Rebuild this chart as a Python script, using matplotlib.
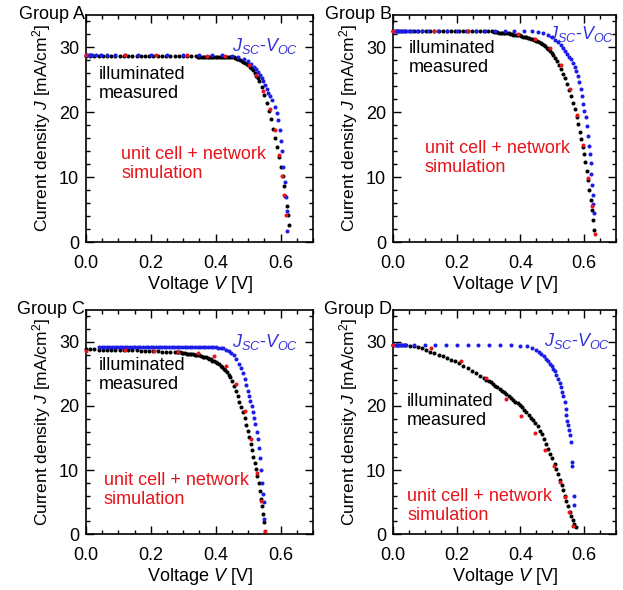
import matplotlib
matplotlib.use("Agg")
import matplotlib.pyplot as plt
from matplotlib.ticker import MultipleLocator

plt.rcParams['font.family'] = ['Liberation Sans', 'DejaVu Sans']
plt.rcParams['mathtext.fontset'] = 'custom'
plt.rcParams['mathtext.rm'] = 'Liberation Sans'
plt.rcParams['mathtext.it'] = 'Liberation Sans:italic'

BLACK = '#000000'
BLUE = '#1c1ce8'
RED = '#e8141a'
BLUE_TXT = '#3434dc'

# ---------------- Group A ----------------
v_meas_a = [0.000, 0.013, 0.026, 0.039, 0.052, 0.065, 0.078, 0.091, 0.104, 0.117, 0.130, 0.143, 0.156,
            0.169, 0.182, 0.195, 0.208, 0.221, 0.234, 0.247, 0.260, 0.273, 0.286, 0.299, 0.312, 0.325, 0.338,
            0.345, 0.350, 0.355, 0.360, 0.365, 0.370, 0.375, 0.380, 0.385, 0.390, 0.395, 0.400, 0.405,
            0.410, 0.415, 0.420, 0.425, 0.430, 0.435, 0.440, 0.445, 0.450, 0.455, 0.460, 0.465, 0.470,
            0.475, 0.480, 0.485, 0.490, 0.495, 0.500, 0.505, 0.510, 0.515, 0.520, 0.525, 0.530, 0.535,
            0.542, 0.550, 0.557, 0.564, 0.571, 0.578, 0.584, 0.590, 0.596, 0.601, 0.606, 0.611, 0.615,
            0.619, 0.623, 0.627]
j_meas_a = [28.6, 28.6, 28.6, 28.6, 28.6, 28.6, 28.6, 28.6, 28.6, 28.6, 28.6, 28.6, 28.6,
            28.6, 28.6, 28.6, 28.6, 28.6, 28.6, 28.6, 28.6, 28.6, 28.6, 28.6, 28.6, 28.6, 28.6,
            28.5, 28.5, 28.5, 28.5, 28.5, 28.5, 28.5, 28.5, 28.5, 28.5, 28.5, 28.5, 28.5,
            28.5, 28.5, 28.5, 28.5, 28.5, 28.5, 28.5, 28.5, 28.4, 28.4, 28.3, 28.2, 28.1,
            28.0, 27.9, 27.7, 27.6, 27.4, 27.2, 27.0, 26.7, 26.4, 26.0, 25.6, 25.2, 24.7,
            23.8, 22.6, 21.4, 20.2, 18.9, 17.4, 16.0, 14.6, 13.1, 11.6, 10.1, 8.6, 7.1,
            5.6, 4.1, 2.6]
v_jv_a = [0.000, 0.004, 0.008, 0.012, 0.016, 0.020, 0.030, 0.045, 0.065, 0.090, 0.120, 0.160, 0.200,
          0.250, 0.300, 0.350, 0.390, 0.420, 0.450, 0.470, 0.487, 0.500, 0.510, 0.518, 0.525, 0.531,
          0.537, 0.542, 0.547, 0.552, 0.557, 0.562, 0.568, 0.575, 0.582, 0.588, 0.593, 0.597, 0.601,
          0.604, 0.609, 0.613, 0.617, 0.620, 0.621]
j_jv_a = [28.8, 28.8, 28.8, 28.8, 28.8, 28.8, 28.8, 28.8, 28.8, 28.8, 28.8, 28.8, 28.8,
          28.8, 28.8, 28.8, 28.7, 28.7, 28.6, 28.4, 28.2, 27.8, 27.4, 27.0, 26.6, 26.2,
          25.7, 25.2, 24.7, 24.2, 23.6, 23.0, 22.4, 21.8, 20.8, 19.8, 18.8, 17.3, 15.6,
          14.0, 11.5, 9.3, 7.0, 4.8, 1.7]
v_sim_a = [0.000, 0.120, 0.215, 0.310, 0.372, 0.428, 0.503, 0.523, 0.545, 0.568, 0.582, 0.594, 0.604, 0.610, 0.616]
j_sim_a = [28.7, 28.7, 28.7, 28.7, 28.6, 28.6, 27.3, 25.7, 23.3, 20.5, 17.3, 13.4, 10.1, 7.2, 4.2]

# ---------------- Group B ----------------
v_meas_b = [0.000, 0.013, 0.026, 0.039, 0.052, 0.065, 0.078, 0.091, 0.104, 0.117, 0.130, 0.143, 0.156,
            0.169, 0.182, 0.195, 0.208, 0.221, 0.234, 0.247, 0.260, 0.273, 0.286, 0.299, 0.312,
            0.318, 0.323, 0.328, 0.333, 0.338, 0.343, 0.348, 0.353, 0.358, 0.363, 0.368, 0.373, 0.378,
            0.383, 0.388, 0.393, 0.398, 0.403, 0.408, 0.413, 0.418, 0.423, 0.428, 0.433, 0.438, 0.443,
            0.448, 0.453, 0.458, 0.463, 0.468, 0.473, 0.478, 0.483, 0.488, 0.493, 0.498, 0.503, 0.508,
            0.514, 0.520, 0.526, 0.533, 0.540, 0.546, 0.552, 0.558, 0.564, 0.570, 0.576, 0.581, 0.586,
            0.591, 0.596, 0.600, 0.604, 0.608, 0.612, 0.616, 0.620, 0.624, 0.628, 0.632]
j_meas_b = [32.4, 32.4, 32.4, 32.4, 32.4, 32.4, 32.4, 32.4, 32.4, 32.4, 32.4, 32.4, 32.4,
            32.4, 32.4, 32.4, 32.4, 32.4, 32.4, 32.4, 32.4, 32.4, 32.4, 32.4, 32.4,
            32.3, 32.3, 32.3, 32.2, 32.2, 32.2, 32.2, 32.1, 32.1, 32.1, 32.0, 32.0, 31.9,
            31.9, 31.9, 31.8, 31.8, 31.7, 31.6, 31.6, 31.5, 31.4, 31.4, 31.3, 31.2, 31.1,
            31.0, 30.9, 30.8, 30.6, 30.5, 30.3, 30.1, 29.9, 29.7, 29.4, 29.1, 28.7, 28.3,
            27.8, 27.2, 26.6, 25.9, 25.2, 24.3, 23.4, 22.4, 21.4, 20.4, 19.3, 18.2, 17.0,
            15.8, 14.6, 13.5, 12.3, 10.9, 9.5, 8.0, 6.5, 5.0, 3.4, 1.8]
v_jv_b = [0.000, 0.004, 0.008, 0.012, 0.016, 0.020, 0.025, 0.030, 0.035, 0.040, 0.050, 0.060, 0.075,
          0.090, 0.110, 0.140, 0.170, 0.200, 0.230, 0.260, 0.290, 0.320, 0.350, 0.380, 0.410, 0.435,
          0.455, 0.472, 0.488, 0.500, 0.510, 0.519, 0.527, 0.534, 0.540, 0.546, 0.552, 0.558, 0.564,
          0.570, 0.575, 0.580, 0.585, 0.589, 0.593, 0.597, 0.601, 0.605, 0.608, 0.611, 0.614, 0.617,
          0.620, 0.623, 0.625, 0.627, 0.629, 0.631]
j_jv_b = [32.5, 32.5, 32.5, 32.5, 32.5, 32.5, 32.5, 32.5, 32.5, 32.5, 32.5, 32.5, 32.5,
          32.5, 32.5, 32.5, 32.5, 32.5, 32.5, 32.5, 32.5, 32.5, 32.5, 32.5, 32.5, 32.5,
          32.3, 32.1, 31.8, 31.5, 31.1, 30.7, 30.3, 29.9, 29.4, 28.9, 28.5, 28.1, 27.5,
          26.9, 26.3, 25.6, 24.6, 23.6, 22.5, 21.3, 20.2, 19.2, 17.8, 16.3, 14.8, 13.5,
          12.2, 10.5, 8.8, 7.2, 5.8, 4.4]
v_sim_b = [0.000, 0.130, 0.235, 0.393, 0.446, 0.493, 0.527, 0.556, 0.579, 0.597, 0.613, 0.624, 0.634]
j_sim_b = [32.5, 32.5, 32.5, 32.0, 31.3, 29.8, 27.3, 23.6, 19.5, 14.9, 9.9, 5.5, 1.3]

# ---------------- Group C ----------------
v_meas_c = [0.000, 0.013, 0.026, 0.039, 0.052, 0.065, 0.078, 0.091, 0.104, 0.117, 0.130, 0.143, 0.156,
            0.169, 0.182, 0.195, 0.208, 0.221, 0.234, 0.247, 0.260, 0.273,
            0.280, 0.285, 0.290, 0.295, 0.300, 0.305, 0.310, 0.315, 0.320, 0.325, 0.330, 0.335, 0.340,
            0.345, 0.350, 0.355, 0.360, 0.365, 0.370, 0.375, 0.380, 0.385, 0.390, 0.395, 0.400, 0.405,
            0.410, 0.415, 0.420, 0.425, 0.430, 0.435, 0.440, 0.445,
            0.451, 0.457, 0.463, 0.468, 0.473, 0.478, 0.484, 0.489, 0.494, 0.499, 0.504, 0.508, 0.512,
            0.516, 0.520, 0.524, 0.528, 0.532, 0.536, 0.540, 0.543, 0.546, 0.549]
j_meas_c = [28.9, 28.9, 28.9, 28.8, 28.8, 28.8, 28.8, 28.8, 28.7, 28.7, 28.7, 28.7, 28.7,
            28.6, 28.6, 28.6, 28.6, 28.6, 28.5, 28.5, 28.5, 28.5,
            28.4, 28.4, 28.4, 28.3, 28.3, 28.3, 28.2, 28.2, 28.2, 28.1, 28.1, 28.0, 28.0,
            27.9, 27.9, 27.8, 27.7, 27.6, 27.6, 27.5, 27.4, 27.3, 27.1, 27.0, 26.8, 26.7,
            26.5, 26.3, 26.1, 25.8, 25.6, 25.3, 24.9, 24.5,
            23.9, 23.1, 22.3, 21.5, 20.7, 19.9, 19.0, 18.1, 17.1, 16.1, 15.1, 14.1, 13.1,
            12.1, 11.1, 10.1, 9.0, 7.9, 6.7, 5.5, 4.3, 3.1, 1.9]
v_jv_c = [0.040, 0.048, 0.056, 0.064, 0.072, 0.080, 0.088, 0.096, 0.104, 0.112, 0.120, 0.128, 0.136,
          0.144, 0.152, 0.160, 0.168, 0.176, 0.184, 0.192, 0.200, 0.208, 0.216, 0.224, 0.232, 0.240,
          0.248, 0.256, 0.264, 0.272, 0.280, 0.288, 0.296, 0.304, 0.312, 0.320, 0.328, 0.336, 0.344,
          0.352, 0.360, 0.368, 0.376, 0.384, 0.392, 0.400,
          0.408, 0.416, 0.424, 0.432, 0.440, 0.448, 0.456, 0.464, 0.471, 0.477, 0.483, 0.489, 0.494,
          0.499, 0.503, 0.507, 0.511, 0.515, 0.519, 0.522, 0.526, 0.530, 0.533, 0.537, 0.540, 0.543,
          0.546, 0.548, 0.550]
j_jv_c = [29.2, 29.2, 29.2, 29.2, 29.2, 29.2, 29.2, 29.2, 29.2, 29.2, 29.2, 29.2, 29.2,
          29.2, 29.2, 29.2, 29.2, 29.2, 29.2, 29.2, 29.2, 29.2, 29.2, 29.2, 29.2, 29.2,
          29.2, 29.2, 29.2, 29.2, 29.2, 29.2, 29.2, 29.2, 29.2, 29.2, 29.2, 29.2, 29.2,
          29.2, 29.2, 29.2, 29.2, 29.2, 29.2, 29.2,
          29.1, 29.1, 29.0, 28.8, 28.6, 28.3, 27.9, 27.3, 26.6, 25.9, 25.1, 24.2, 23.3,
          22.4, 21.6, 20.8, 20.0, 19.1, 18.1, 17.2, 16.0, 14.8, 13.4, 11.8, 10.0, 7.9,
          6.3, 5.0, 2.3]
v_sim_c = [0.000, 0.120, 0.210, 0.285, 0.346, 0.394, 0.433, 0.464, 0.489, 0.510, 0.528, 0.540, 0.553]
j_sim_c = [28.6, 28.7, 28.6, 28.5, 28.3, 27.8, 26.3, 23.5, 19.2, 14.9, 9.5, 5.2, 0.5]

# ---------------- Group D ----------------
v_meas_d = [0.000, 0.013, 0.026, 0.039, 0.052, 0.065, 0.078, 0.091, 0.104, 0.117, 0.130, 0.143, 0.156,
            0.169, 0.182, 0.195, 0.208, 0.221, 0.234, 0.247, 0.260, 0.273, 0.286,
            0.293, 0.300, 0.307, 0.314, 0.321, 0.328, 0.335, 0.342, 0.349, 0.356, 0.363, 0.370, 0.377,
            0.384, 0.391, 0.398, 0.405, 0.412, 0.419, 0.426, 0.433, 0.440, 0.447, 0.454,
            0.461, 0.467, 0.473, 0.480, 0.487, 0.494, 0.500, 0.507, 0.513, 0.518, 0.523, 0.529, 0.534,
            0.539, 0.544, 0.550, 0.555, 0.560, 0.565, 0.569, 0.573]
j_meas_d = [29.5, 29.5, 29.5, 29.5, 29.4, 29.3, 29.2, 29.0, 28.8, 28.5, 28.3, 28.0, 27.8,
            27.5, 27.2, 27.0, 26.7, 26.3, 25.9, 25.5, 25.1, 24.7, 24.3,
            24.1, 23.9, 23.7, 23.4, 23.2, 22.9, 22.7, 22.4, 22.2, 21.9, 21.6, 21.3, 21.0,
            20.7, 20.4, 20.1, 19.8, 19.4, 19.0, 18.6, 18.2, 17.8, 17.3, 16.8,
            16.1, 15.6, 14.9, 14.1, 13.3, 12.5, 11.8, 11.0, 10.2, 9.3, 8.4, 7.6, 6.9,
            6.0, 5.1, 4.3, 3.5, 2.8, 2.2, 1.6, 1.1]
v_jv_d = [0.000, 0.004, 0.008, 0.012, 0.016, 0.020, 0.025, 0.030, 0.035, 0.040, 0.065, 0.100, 0.133,
          0.166, 0.200, 0.234, 0.268, 0.302, 0.336, 0.370, 0.400, 0.420,
          0.435, 0.448, 0.458, 0.466, 0.474, 0.481, 0.487, 0.493, 0.498, 0.503, 0.508, 0.513, 0.518,
          0.523, 0.528, 0.532, 0.535, 0.539, 0.542, 0.544, 0.547, 0.549, 0.552, 0.555, 0.558, 0.562,
          0.563, 0.567, 0.569]
j_jv_d = [29.5, 29.5, 29.5, 29.5, 29.5, 29.5, 29.5, 29.5, 29.5, 29.5, 29.5, 29.5, 29.5,
          29.5, 29.5, 29.5, 29.5, 29.5, 29.5, 29.5, 29.4, 29.3,
          29.1, 28.8, 28.5, 28.2, 27.8, 27.4, 27.0, 26.6, 26.2, 25.8, 25.4, 24.8, 24.2,
          23.6, 22.9, 22.2, 21.6, 20.6, 19.6, 18.6, 17.7, 17.0, 16.2, 15.4, 14.4, 11.2,
          10.6, 5.9, 4.5]
v_sim_d = [0.000, 0.120, 0.214, 0.291, 0.354, 0.403, 0.445, 0.476, 0.504, 0.523, 0.541, 0.552, 0.565]
j_sim_d = [29.5, 29.1, 27.1, 24.3, 21.1, 18.4, 15.8, 13.2, 10.6, 8.2, 5.8, 3.5, 1.3]

panels = [
    ("Group A", [0.138, 0.5898, 0.3644, 0.3856], (v_meas_a, j_meas_a), (v_jv_a, j_jv_a), (v_sim_a, j_sim_a),
     (0.79, 0.862), (0.058, 0.695), (0.155, 0.344)),
    ("Group B", [0.6308, 0.5898, 0.358, 0.3856], (v_meas_b, j_meas_b), (v_jv_b, j_jv_b), (v_sim_b, j_sim_b),
     (0.843, 0.915), (0.072, 0.808), (0.143, 0.371)),
    ("Group C", [0.138, 0.0949, 0.3644, 0.3797], (v_meas_c, j_meas_c), (v_jv_c, j_jv_c), (v_sim_c, j_sim_c),
     (0.79, 0.855), (0.057, 0.71), (0.079, 0.197)),
    ("Group D", [0.6308, 0.0949, 0.358, 0.3797], (v_meas_d, j_meas_d), (v_jv_d, j_jv_d), (v_sim_d, j_sim_d),
     (0.827, 0.86), (0.063, 0.547), (0.063, 0.126)),
]

fig = plt.figure(figsize=(6.23, 5.90), dpi=100)

for title, rect, meas, jv, sim, jv_pos, meas_pos, sim_pos in panels:
    ax = fig.add_axes(rect)
    ms = 2.9
    ax.plot(meas[0], meas[1], 'o', color=BLACK, ms=ms, mew=0, clip_on=False, zorder=3)
    ax.plot(jv[0], jv[1], 'o', color=BLUE, ms=ms, mew=0, clip_on=False, zorder=4)
    ax.plot(sim[0], sim[1], 'o', color=RED, ms=ms, mew=0, clip_on=False, zorder=5)

    ax.set_xlim(0, 0.7)
    ax.set_ylim(0, 35)
    ax.xaxis.set_major_locator(MultipleLocator(0.2))
    ax.xaxis.set_minor_locator(MultipleLocator(0.05))
    ax.yaxis.set_major_locator(MultipleLocator(10))
    ax.yaxis.set_minor_locator(MultipleLocator(2))
    ax.xaxis.set_major_formatter(plt.FuncFormatter(lambda x, p: f"{x:.1f}"))
    ax.tick_params(which='both', direction='in', top=True, right=True, width=1.0, labelsize=13)
    ax.tick_params(which='major', length=5.5)
    ax.tick_params(which='minor', length=3)
    ax.tick_params(axis='x', pad=9)
    ax.tick_params(axis='y', pad=5)
    for sp in ax.spines.values():
        sp.set_linewidth(1.2)

    ax.set_xlabel('Voltage $V$ [V]', fontsize=13, labelpad=2)
    ax.set_ylabel('Current density $J$ [mA/cm$^2$]', fontsize=12.5, labelpad=4)

    ax.text(-0.005, 1.0, title, transform=ax.transAxes, ha='right', va='center', fontsize=13)
    ax.text(jv_pos[0], jv_pos[1], '$J_{SC}$-$V_{OC}$', transform=ax.transAxes, ha='center', va='center',
            fontsize=13, color=BLUE_TXT)
    ax.text(meas_pos[0], meas_pos[1], 'illuminated\nmeasured', transform=ax.transAxes, ha='left',
            va='center', fontsize=13, color=BLACK, linespacing=1.15)
    ax.text(sim_pos[0], sim_pos[1], 'unit cell + network\nsimulation', transform=ax.transAxes, ha='left',
            va='center', fontsize=13, color=RED, linespacing=1.15)

fig.savefig('out.png', dpi=100)
